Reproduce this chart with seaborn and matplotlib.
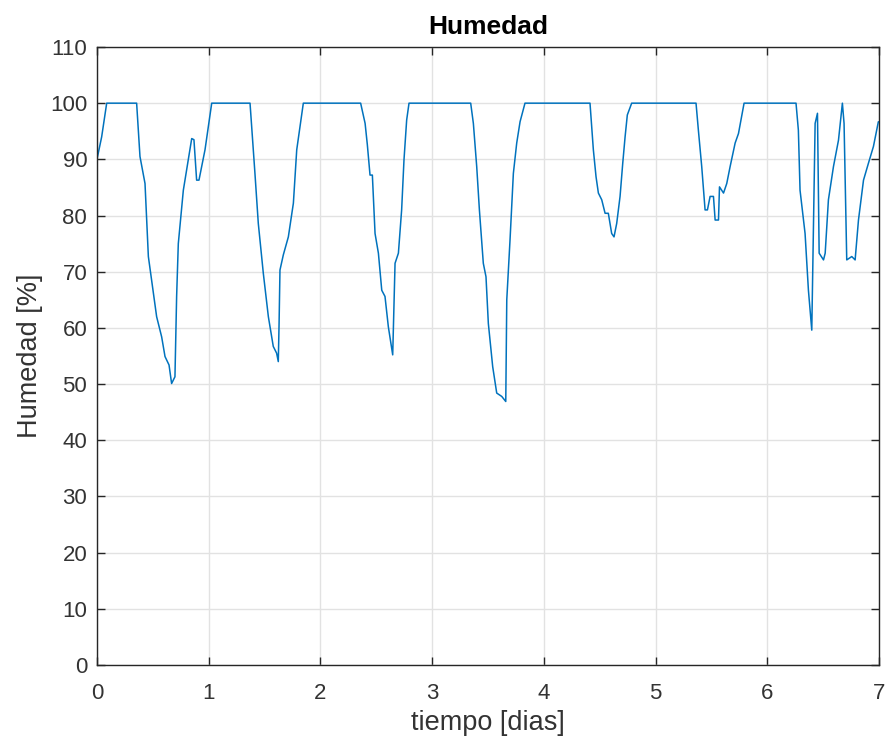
"""Humedad relativa a lo largo de una semana (estilo MATLAB)."""

import matplotlib
matplotlib.use("Agg")
import matplotlib.pyplot as plt
import pandas as pd
import seaborn as sns

# tiempo [dias] y humedad [%]
tiempo = [
  0.0, 0.042, 0.087, 0.355, 0.385, 0.43, 0.46, 0.534, 0.579, 0.609, 0.645,
  0.668, 0.698, 0.713, 0.728, 0.773, 0.848, 0.868, 0.892, 0.913, 0.967,
  1.027, 1.37, 1.414, 1.444, 1.489, 1.534, 1.578, 1.608, 1.623, 1.63,
  1.638, 1.668, 1.713, 1.758, 1.788, 1.847, 2.36, 2.4, 2.42, 2.444, 2.465,
  2.489, 2.519, 2.549, 2.578, 2.608, 2.647, 2.668, 2.698, 2.727, 2.748,
  2.772, 2.793, 3.345, 3.369, 3.399, 3.423, 3.458, 3.482, 3.503, 3.542,
  3.578, 3.623, 3.659, 3.668, 3.697, 3.727, 3.757, 3.787, 3.831, 4.413,
  4.443, 4.467, 4.488, 4.518, 4.548, 4.577, 4.607, 4.628, 4.652, 4.682,
  4.706, 4.727, 4.747, 4.786, 5.362, 5.383, 5.413, 5.443, 5.464, 5.488,
  5.518, 5.533, 5.563, 5.572, 5.608, 5.637, 5.667, 5.712, 5.742, 5.792,
  6.257, 6.278, 6.293, 6.338, 6.368, 6.398, 6.428, 6.449, 6.464, 6.503,
  6.518, 6.547, 6.592, 6.637, 6.672, 6.687, 6.711, 6.756, 6.786, 6.816,
  6.861, 6.905, 6.95, 6.994,
]
humedad = [
  90.0, 94.0, 100.0, 100.0, 90.5, 85.7, 72.7, 62.0, 58.4, 54.9, 53.4,
  50.1, 51.3, 65.6, 75.0, 84.5, 93.7, 93.5, 86.3, 86.3, 91.7,
  100.0, 100.0, 87.5, 78.6, 69.7, 62.0, 56.7, 55.5, 54.0, 60.8,
  70.3, 73.0, 76.2, 82.2, 91.7, 100.0, 100.0, 96.4, 92.6, 87.2, 87.2,
  76.8, 73.3, 66.7, 65.6, 60.2, 55.2, 71.5, 73.3, 81.0, 89.9,
  97.0, 100.0, 100.0, 96.4, 88.7, 81.0, 71.5, 69.1, 60.8, 53.1,
  48.4, 47.8, 46.9, 65.0, 75.6, 87.5, 92.9, 96.7, 100.0, 100.0,
  91.7, 86.9, 84.0, 82.8, 80.4, 80.4, 76.8, 76.2, 78.6, 83.4,
  89.3, 94.0, 97.9, 100.0, 100.0, 95.2, 88.7, 81.0, 81.0, 83.4,
  83.4, 79.2, 79.2, 85.1, 84.0, 85.7, 88.7, 92.9, 94.6, 100.0,
  100.0, 95.2, 84.5, 76.8, 66.7, 59.6, 96.4, 98.2, 73.3, 72.1,
  73.3, 82.8, 88.7, 93.4, 100.0, 96.4, 72.1, 72.7, 72.1, 79.2,
  86.3, 89.3, 92.3, 96.7,
]
xticks = list(range(0, 8))
yticks = list(range(0, 111, 10))

df = pd.DataFrame({"tiempo": tiempo, "humedad": humedad})

sns.set_theme(style="whitegrid")
plt.rcParams["font.family"] = ["Liberation Sans", "DejaVu Sans"]

ink = "#262626"
text_ink = "#333333"
fig = plt.figure(figsize=(8.88, 7.47), dpi=100)
ax = fig.add_axes([0.1092, 0.1098, 0.8807, 0.8273])

sns.lineplot(data=df, x="tiempo", y="humedad", ax=ax, color="#0072BD",
             linewidth=1.1, estimator=None, sort=False)

ax.set_xlim(0, 7)
ax.set_ylim(0, 110)
ax.set_xticks(xticks)
ax.set_yticks(yticks)
ax.grid(True, color="#e2e2e2", linewidth=1.0)
ax.set_facecolor("white")
for side in ax.spines.values():
  side.set_visible(True)
  side.set_color(ink)
  side.set_linewidth(1.0)
ax.tick_params(axis="both", direction="in", length=6, width=1.0,
               color=ink, labelcolor=text_ink, labelsize=16,
               top=True, right=True, bottom=True, left=True)
ax.tick_params(axis="x", pad=13)
ax.tick_params(axis="y", pad=7)

ax.set_title("Humedad", fontsize=19, fontweight="bold", color="black", pad=9)
ax.set_xlabel("tiempo [dias]", fontsize=19.5, color=text_ink, labelpad=4)
ax.set_ylabel("Humedad [%]", fontsize=19.5, color=text_ink, labelpad=5)

fig.savefig("out.png", dpi=100)
